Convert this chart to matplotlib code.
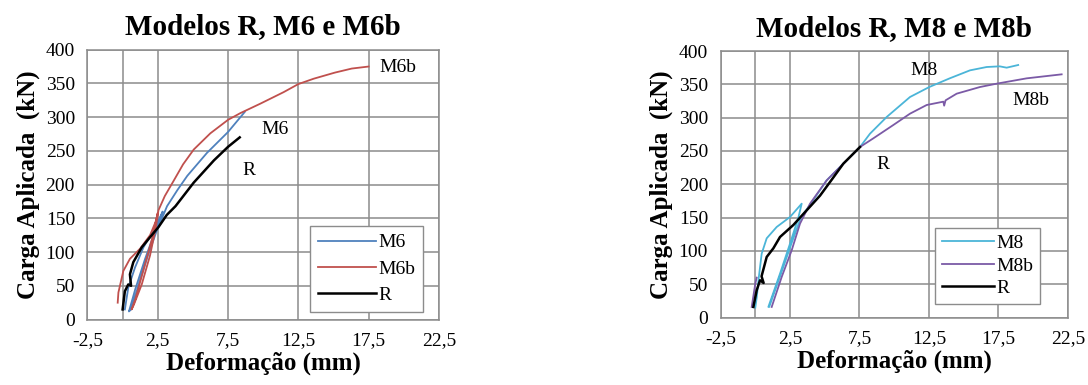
import numpy as np
import matplotlib
matplotlib.use("Agg")
import matplotlib.pyplot as plt
from matplotlib.ticker import FuncFormatter

plt.rcParams['font.family'] = ['Liberation Serif', 'DejaVu Serif']

# ---- left chart data (R, M6, M6b) ----
m6_x = [0.16, 0.4, 0.88, 1.48, 2.2, 2.67, 2.85, 2.3, 1.6, 0.9, 0.45, 0.6, 1.2, 1.8, 2.4, 2.8,
        3.16, 3.9, 4.6, 6.0, 7.5, 8.5, 8.7]
m6_y = [15, 47, 77, 107, 132, 152, 160, 130, 90, 45, 12, 15, 55, 95, 130, 150,
        168, 192, 213, 247, 278, 303, 308]

m6b_x = [-0.35, -0.3, 0.05, 0.52, 1.24, 1.95, 2.35, 2.5, 2.1, 1.5, 0.9, 0.64, 0.8, 1.36, 1.95,
         2.35, 2.55, 3.0, 3.64, 4.3, 5.06, 6.24, 7.5, 8.38, 9.8, 11.45, 12.5, 13.6, 15.1, 16.3, 17.5]
m6b_y = [25, 40, 72, 90, 105, 125, 145, 158, 120, 75, 30, 15, 22, 52, 95,
         135, 162, 183, 206, 230, 252, 276, 296, 306, 320, 337, 349, 357, 366, 372, 375]

rl_x = [0.0, 0.16, 0.4, 0.6, 0.52, 0.76, 1.36, 1.95, 2.55, 3.14, 3.76, 5.06, 6.5, 7.5, 8.33]
rl_y = [15, 42, 52, 50, 67, 85, 107, 122, 137, 155, 168, 203, 236, 256, 270]

# ---- right chart data (R, M8, M8b) ----
m8_x = [0.0, 0.1, 0.25, 0.46, 0.82, 1.54, 2.5, 3.34, 3.1, 2.5, 1.78, 0.94, 1.0, 1.85, 2.6, 3.3,
        4.0, 5.14, 6.34, 7.54, 8.26, 9.46, 11.14, 12.53, 14.0, 15.46, 16.66, 17.6, 18.1, 18.93]
m8_y = [15, 30, 60, 96, 119, 136, 151, 171, 150, 111, 66, 16, 16, 66, 111, 151,
        171, 206, 231, 256, 276, 301, 331, 346, 359, 371, 376, 377, 375, 379]

m8b_x = [-0.26, 0.0, 0.1, np.nan, 1.18, 1.9, 2.62, 3.22, 3.94, 5.14, 6.34, 7.54, 8.5, 9.94,
         11.14, 12.34, 13.54, 13.6, 13.7, 14.5, 16.18, 17.38, 19.54, 22.06]
m8b_y = [16, 51, 60, np.nan, 16, 61, 101, 141, 171, 206, 231, 256, 269, 289,
         306, 319, 324, 318, 326, 336, 346, 351, 359, 365]

rr_x = [-0.14, 0.1, 0.34, 0.6, 0.45, 0.82, 1.3, 1.78, 2.74, 3.7, 4.66, 5.4, 6.34, 7.54]
rr_y = [16, 41, 56, 52, 62, 91, 104, 121, 139, 161, 183, 204, 231, 256]

x_ticks = [-2.5, 2.5, 7.5, 12.5, 17.5, 22.5]
y_ticks = [0, 50, 100, 150, 200, 250, 300, 350, 400]

grid_col = '#8c8c8c'
fig = plt.figure(figsize=(10.88, 3.85), dpi=100)
ax1 = fig.add_axes([0.0804, 0.170, 0.323, 0.701])
ax2 = fig.add_axes([0.6623, 0.175, 0.3191, 0.6925])


def style(ax, title):
    ax.set_xlim(-2.5, 22.5)
    ax.set_ylim(0, 400)
    ax.set_xticks(x_ticks)
    ax.set_yticks(y_ticks)
    ax.xaxis.set_major_formatter(FuncFormatter(lambda v, p: ('%g' % v).replace('.', ',')))
    ax.grid(True, color=grid_col, lw=1.1)
    ax.axvline(0, color=grid_col, lw=1.1, zorder=0.5)
    ax.set_axisbelow(True)
    for s in ax.spines.values():
        s.set_color(grid_col)
        s.set_linewidth(1.1)
    ax.tick_params(length=0, labelsize=14, pad=9)
    ax.set_title(title, fontsize=21, fontweight='bold', pad=11)
    ax.set_xlabel('Deformação (mm)', fontsize=18, fontweight='bold', labelpad=2)
    ax.set_ylabel('Carga Aplicada  (kN)', fontsize=18, fontweight='bold', labelpad=4)


style(ax1, 'Modelos R, M6 e M6b')
ax1.plot(m6_x, m6_y, color='#4F81BD', lw=1.3, label='M6')
ax1.plot(m6b_x, m6b_y, color='#C0504D', lw=1.3, label='M6b')
ax1.plot(rl_x, rl_y, color='black', lw=1.8, label='R')
ax1.text(18.3, 374, 'M6b', fontsize=14, va='center')
ax1.text(9.9, 281, 'M6', fontsize=14, va='center')
ax1.text(8.5, 221, 'R', fontsize=14, va='center')
leg = ax1.legend(loc='lower right', bbox_to_anchor=(0.954, 0.028), fontsize=14,
                 handlelength=3.0, handletextpad=0.1, labelspacing=0.45,
                 borderpad=0.4, borderaxespad=0, fancybox=False, framealpha=1)
leg.get_frame().set_edgecolor(grid_col)

style(ax2, 'Modelos R, M8 e M8b')
ax2.plot(m8_x, m8_y, color='#4BB5D8', lw=1.3, label='M8')
ax2.plot(m8b_x, m8b_y, color='#7B5AA6', lw=1.3, label='M8b')
ax2.plot(rr_x, rr_y, color='black', lw=1.8, label='R')
ax2.text(11.15, 371, 'M8', fontsize=14, va='center')
ax2.text(18.5, 326, 'M8b', fontsize=14, va='center')
ax2.text(8.7, 229, 'R', fontsize=14, va='center')
leg = ax2.legend(loc='lower right', bbox_to_anchor=(0.92, 0.051), fontsize=14,
                 handlelength=2.7, handletextpad=0.1, labelspacing=0.25,
                 borderpad=0.35, borderaxespad=0, fancybox=False, framealpha=1)
leg.get_frame().set_edgecolor(grid_col)

fig.savefig('out.png', dpi=100)
